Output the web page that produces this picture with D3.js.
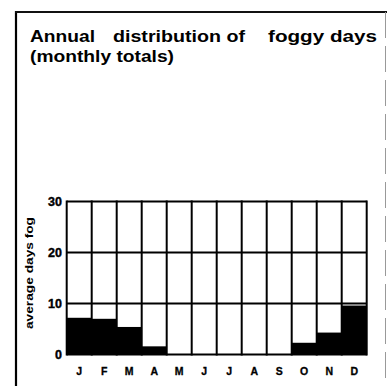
<!DOCTYPE html>
<html>
<head>
<meta charset="utf-8">
<script src="https://cdn.jsdelivr.net/npm/d3@7"></script>
<style>
  html, body { margin: 0; padding: 0; background: #fff; }
  svg { display: block; }
  text { font-family: "Liberation Sans", Arial, Helvetica, sans-serif; fill: #000; }
</style>
</head>
<body>
<svg id="chart" width="387" height="386"></svg>
<script>
// Monthly totals of foggy days
const months = ["J", "F", "M", "A", "M2", "J2", "J3", "A2", "S", "O", "N", "D"];
const monthLabels = ["J", "F", "M", "A", "M", "J", "J", "A", "S", "O", "N", "D"];
const fogDays = [7.2, 7.0, 5.4, 1.6, 0, 0, 0, 0, 0, 2.3, 4.3, 9.6];
const yTicks = [0, 10, 20, 30];

const svg = d3.select("#chart");

// frame of the panel
svg.append("line").attr("x1", 16).attr("y1", 11).attr("x2", 16).attr("y2", 386)
  .attr("stroke", "#000").attr("stroke-width", 2.2);
svg.append("line").attr("x1", 15).attr("y1", 12).attr("x2", 387).attr("y2", 12)
  .attr("stroke", "#111").attr("stroke-width", 2);
svg.append("line").attr("x1", 385.5).attr("y1", 12).attr("x2", 385.5).attr("y2", 386)
  .attr("stroke", "#999").attr("stroke-width", 1).attr("stroke-dasharray", "26,8");

// title, words spread across the panel width
const titleParts = [
  { t: "Annual", x: 30, y: 42, w: 65 },
  { t: "distribution of", x: 113, y: 42, w: 132 },
  { t: "foggy days", x: 268, y: 42, w: 109 },
  { t: "(monthly totals)", x: 30, y: 62, w: 144 }
];
svg.append("g").attr("font-weight", "bold").attr("font-size", 17)
  .selectAll("text").data(titleParts).join("text")
  .attr("x", d => d.x).attr("y", d => d.y)
  .attr("textLength", d => d.w).attr("lengthAdjust", "spacingAndGlyphs")
  .text(d => d.t);

// scales
const x = d3.scaleBand().domain(months).range([66.7, 366.7]).padding(0);
const y = d3.scaleLinear().domain([0, 30]).range([354.5, 201.5]);

// bars
svg.append("g").selectAll("rect").data(fogDays).join("rect")
  .attr("x", (d, i) => x(months[i]))
  .attr("y", d => y(d))
  .attr("width", x.bandwidth())
  .attr("height", d => y(0) - y(d))
  .attr("fill", "#000");

// horizontal grid lines
svg.append("g").selectAll("line").data(yTicks).join("line")
  .attr("x1", x.range()[0]).attr("x2", x.range()[1])
  .attr("y1", d => y(d)).attr("y2", d => y(d))
  .attr("stroke", "#000").attr("stroke-width", 2);

// vertical column dividers
const edges = months.map(m => x(m)).concat([x.range()[1]]);
svg.append("g").selectAll("line").data(edges).join("line")
  .attr("x1", d => d).attr("x2", d => d)
  .attr("y1", y(30) - 1).attr("y2", y(0) + 1)
  .attr("stroke", "#000").attr("stroke-width", 2);

// y tick labels
svg.append("g").selectAll("text").data(yTicks).join("text")
  .attr("x", 62).attr("y", d => y(d) + 4.5)
  .attr("text-anchor", "end")
  .attr("font-size", 12.5).attr("font-weight", "bold")
  .attr("stroke", "#000").attr("stroke-width", 0.4)
  .text(d => d);

// month labels
svg.append("g").selectAll("text").data(months).join("text")
  .attr("x", d => x(d) + x.bandwidth() / 2)
  .attr("y", 375)
  .attr("text-anchor", "middle")
  .attr("font-size", 10.5).attr("font-weight", "bold")
  .attr("stroke", "#000").attr("stroke-width", 0.3)
  .text((d, i) => monthLabels[i]);

// y axis title
svg.append("text")
  .attr("transform", "translate(33,273) rotate(-90)")
  .attr("text-anchor", "middle")
  .attr("font-size", 10.5).attr("font-weight", "bold")
  .attr("textLength", 112).attr("lengthAdjust", "spacingAndGlyphs")
  .text("average days fog");
</script>
</body>
</html>
